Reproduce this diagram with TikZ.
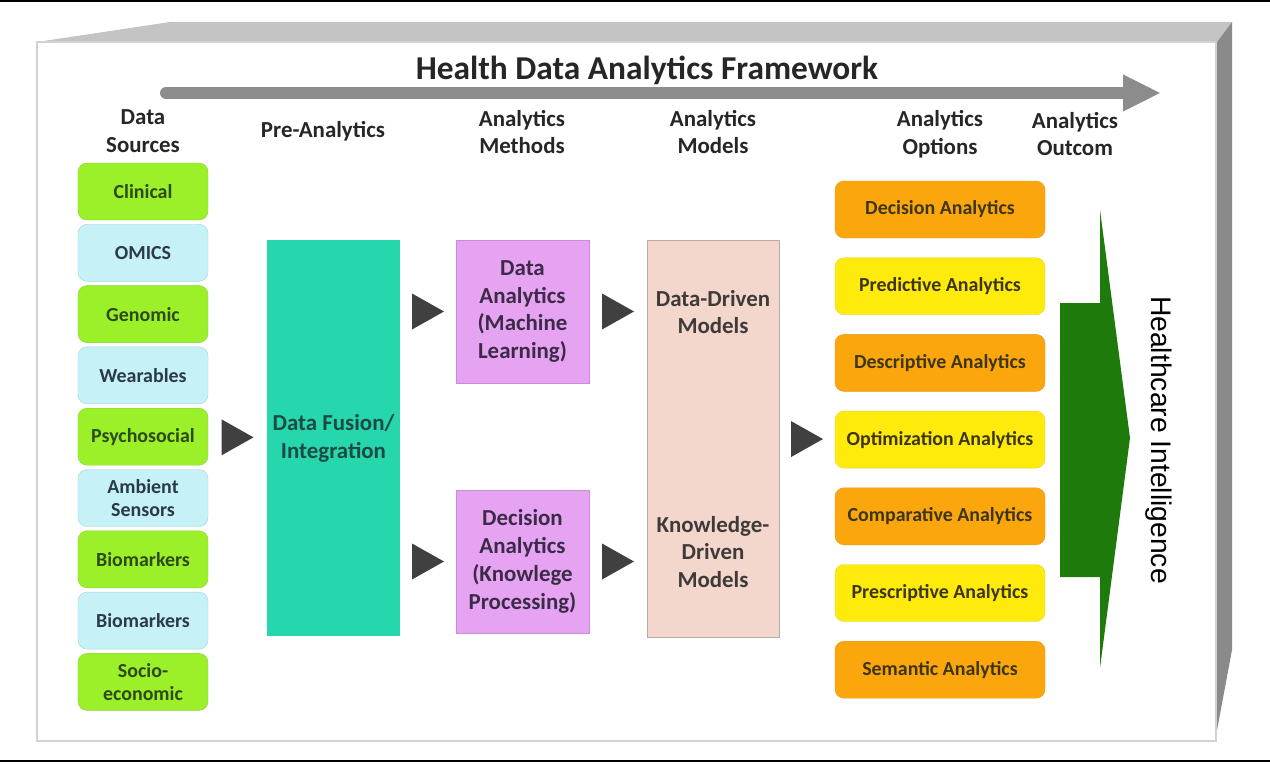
\documentclass[tikz,border=0pt]{standalone}
\usepackage{fontspec}
\setmainfont{Carlito}
\newfontfamily\outfont{Liberation Sans}
\usetikzlibrary{arrows.meta,calc}
\definecolor{srcG}{HTML}{9BF029}
\definecolor{srcGline}{HTML}{86D63A}
\definecolor{srcGtext}{HTML}{2D4A16}
\definecolor{srcC}{HTML}{C6F1F7}
\definecolor{srcCline}{HTML}{A3D3DB}
\definecolor{srcCtext}{HTML}{2A3A48}
\definecolor{fusefill}{HTML}{26D6AC}
\definecolor{fusetext}{HTML}{1D4A45}
\definecolor{methfill}{HTML}{E6A3F2}
\definecolor{methline}{HTML}{C98CD8}
\definecolor{methtext}{HTML}{3B2B47}
\definecolor{modfill}{HTML}{F3D6CC}
\definecolor{modline}{HTML}{B8AAA4}
\definecolor{modtext}{HTML}{3F3A3A}
\definecolor{optO}{HTML}{FBA60C}
\definecolor{optOline}{HTML}{E59A1C}
\definecolor{optY}{HTML}{FEEA0B}
\definecolor{optYline}{HTML}{E6D64A}
\definecolor{opttext}{HTML}{3D3515}
\definecolor{tipgray}{HTML}{404040}
\definecolor{bargray}{HTML}{8C8C8C}
\definecolor{outgreen}{HTML}{1F7A0C}
\definecolor{topface}{HTML}{C4C4C4}
\definecolor{sideface}{HTML}{8A8A8A}
\definecolor{frameline}{HTML}{D2D2D2}

\tikzset{tri/.pic={\fill[tipgray] (-16,-18) -- (16,0) -- (-16,18) -- cycle;}}

\begin{document}
\begin{tikzpicture}[x=1bp,y=-1bp,
  srcbox/.style={rounded corners=9bp,minimum width=130bp,minimum height=57bp,inner sep=0pt,align=center,font=\fontsize{20}{23.5}\selectfont\bfseries},
  srcgreen/.style={srcbox,fill=srcG,draw=srcGline,text=srcGtext},
  srccyan/.style={srcbox,fill=srcC,draw=srcCline,text=srcCtext},
  bigbox/.style={minimum width=133bp,inner sep=0pt,align=center,font=\fontsize{23}{28}\selectfont\bfseries},
  optbox/.style={rounded corners=9bp,minimum width=210bp,minimum height=57bp,inner sep=0pt,text=opttext,font=\fontsize{20}{23}\selectfont\bfseries},
  optorange/.style={optbox,fill=optO,draw=optOline},
  optyellow/.style={optbox,fill=optY,draw=optYline},
  head/.style={align=center,font=\fontsize{23}{28}\selectfont\bfseries,text=black!85}]
\useasboundingbox (0,0) rectangle (1270,764);
\draw[line width=2bp] (0,1.5)--(1270,1.5);
\draw[line width=2bp] (0,761)--(1270,761);
% the box
\fill[topface] (37,42)--(170,22)--(1232,22)--(1217,42)--cycle;
\fill[sideface] (1217,42)--(1232,22)--(1232,650)--(1215,741)--cycle;
\draw[frameline,line width=1.5bp,fill=white] (37,42) rectangle (1216,741);
% title
\node[font=\fontsize{33.5}{38}\selectfont\bfseries,text=black!85] (title) at (647,70) {Health Data Analytics Framework};
\coordinate (ta) at (166,93);
\coordinate (tb) at (1161,93);
\draw[bargray,line width=12bp,line cap=round,-{Triangle[length=38bp,width=34bp]}] (ta)--(tb);
% headers
\node[head] (hsrc) at (143,131) {Data\\Sources};
\node[head] (hpre) at (323,131) {Pre-Analytics};
\node[head] (hmeth) at (522,132) {Analytics\\Methods};
\node[head] (hmod) at (713,132) {Analytics\\Models};
\node[head] (hopt) at (940,134) {Analytics\\Options};
\node[head] (hout) at (1075,134) {Analytics\\Outcom};
% data sources
\node[srcgreen] (clin) at (143,191.5) {Clinical};
\node[srccyan] (omics) at (143,252.8) {OMICS};
\node[srcgreen] (gen) at (143,314.1) {Genomic};
\node[srccyan] (wear) at (143,375.4) {Wearables};
\node[srcgreen] (psy) at (143,436.7) {Psychosocial};
\node[srccyan] (amb) at (143,498) {Ambient\\Sensors};
\node[srcgreen] (bioA) at (143,559.3) {Biomarkers};
\node[srccyan] (bioB) at (143,620.6) {Biomarkers};
\node[srcgreen] (socio) at (143,681.9) {Socio-\\economic};
% pre-analytics, methods, models
\node[bigbox,minimum height=396bp,fill=fusefill,text=fusetext] (fus) at (333.5,438) {Data Fusion/\\Integration};
\node[bigbox,minimum height=143bp,fill=methfill,draw=methline,text=methtext] (da) at (522.5,311.5) {Data\\Analytics\\(Machine\\Learning)};
\node[bigbox,minimum height=143bp,fill=methfill,draw=methline,text=methtext] (dec) at (522.5,561.5) {Decision\\Analytics\\(Knowlege\\Processing)};
\node[bigbox,minimum width=132bp,minimum height=397bp,fill=modfill,draw=modline] (mod) at (713,438.5) {};
\node[bigbox,text=modtext] (ddm) at (713,312) {Data-Driven\\Models};
\node[bigbox,text=modtext] (kdm) at (713,552) {Knowledge-\\Driven\\Models};
% options
\node[optorange] (o1) at (940,209.5) {Decision Analytics};
\node[optyellow] (o2) at (940,286.2) {Predictive Analytics};
\node[optorange] (o3) at (940,362.9) {Descriptive Analytics};
\node[optyellow] (o4) at (940,439.6) {Optimization Analytics};
\node[optorange] (o5) at (940,516.3) {Comparative Analytics};
\node[optyellow] (o6) at (940,593) {Prescriptive Analytics};
\node[optorange] (o7) at (940,669.7) {Semantic Analytics};
% arrowheads between stages
\pic at ($(psy.east)!.5!(fus.west)$) {tri};
\pic at ($(fus.east |- da.west)!.5!(da.west)$) {tri};
\pic at ($(fus.east |- dec.west)!.5!(dec.west)$) {tri};
\pic at ($(da.east)!.5!(mod.west |- da.east)$) {tri};
\pic at ($(dec.east)!.5!(mod.west |- dec.east)$) {tri};
\pic at ($(mod.east)!.5!(o4.west)$) {tri};
% outcome
\fill[outgreen] (1060,303)--(1100,303)--(1100,210)--(1130,438)--(1100,668)--(1100,577)--(1060,577)--cycle;
\node[rotate=-90,font=\fontsize{28.4}{32}\outfont] (hi) at (1159,440) {Healthcare Intelligence};
\end{tikzpicture}
\end{document}
